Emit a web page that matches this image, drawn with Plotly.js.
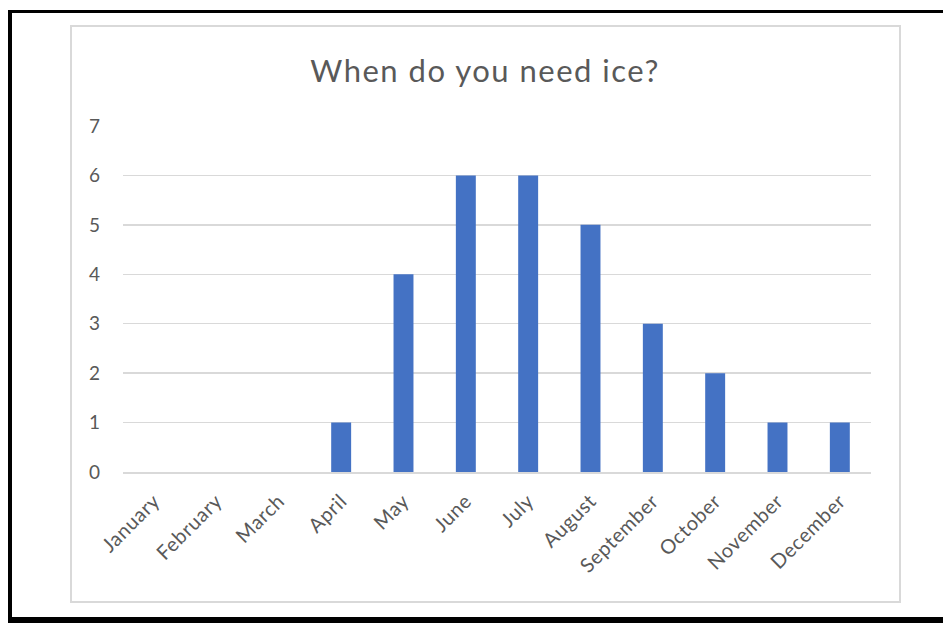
<!DOCTYPE html>
<html>
<head>
<meta charset="utf-8">
<script src="https://cdn.plot.ly/plotly-3.0.1.min.js"></script>
<style>
  html, body { margin: 0; padding: 0; width: 943px; height: 623px; overflow: hidden; background: #ffffff; }
  #frame { position: absolute; left: 8px; top: 10px; width: 1000px; height: 616px;
           border-left: 4px solid #000; border-top: 3px solid #000; border-bottom: 9px solid #000; box-sizing: border-box; }
  #chartArea { position: absolute; left: 70px; top: 25px; width: 831px; height: 578px;
               border: 2px solid #d9d9d9; box-sizing: border-box; background: #fff; }
  #chart { position: absolute; left: 0; top: 0; width: 943px; height: 623px; }
  #chart .gtitle { letter-spacing: 1.5px; }
  #chart .xtick text { letter-spacing: 0.6px; }
</style>
</head>
<body>
<div id="frame"></div>
<div id="chartArea"></div>
<div id="chart"></div>
<script>
// Number of responses per month
const months = ["January", "February", "March", "April", "May", "June",
                "July", "August", "September", "October", "November", "December"];
const counts = [0, 0, 0, 1, 4, 6, 6, 5, 3, 2, 1, 1];
const yTicks = [0, 1, 2, 3, 4, 5, 6, 7];

const textColor = "#595959";
const gridColor = "#d9d9d9";
const font = "Lato, 'Open Sans', sans-serif";

const trace = {
  type: "bar",
  x: months,
  y: counts,
  marker: { color: "#4472c4" },
  width: 0.32,
  hoverinfo: "x+y"
};

const layout = {
  width: 943,
  height: 623,
  margin: { l: 123, r: 72, t: 126, b: 151 },
  paper_bgcolor: "rgba(0,0,0,0)",
  plot_bgcolor: "rgba(0,0,0,0)",
  showlegend: false,
  font: { family: font, color: textColor, size: 19 },
  title: {
    text: "When do you need ice?",
    font: { family: font, size: 31, color: textColor },
    xref: "container", x: 485 / 943, xanchor: "center",
    yref: "container", y: 1 - 71 / 623, yanchor: "middle"
  },
  xaxis: {
    type: "category",
    tickangle: -45,
    showgrid: false,
    showline: true,
    linecolor: gridColor,
    linewidth: 1.5,
    ticks: "",
    ticklabelstandoff: 8,
    tickfont: { family: font, size: 20, color: textColor },
    fixedrange: true
  },
  yaxis: {
    range: [0, 7],
    tickvals: yTicks,
    ticktext: yTicks.map(String),
    showgrid: true,
    gridcolor: gridColor,
    gridwidth: 1.5,
    zeroline: false,
    showline: false,
    ticks: "",
    ticklabelstandoff: 22,
    tickfont: { family: font, size: 19, color: textColor },
    fixedrange: true
  }
};

Plotly.newPlot("chart", [trace], layout, { displayModeBar: false, staticPlot: true });
</script>
</body>
</html>
